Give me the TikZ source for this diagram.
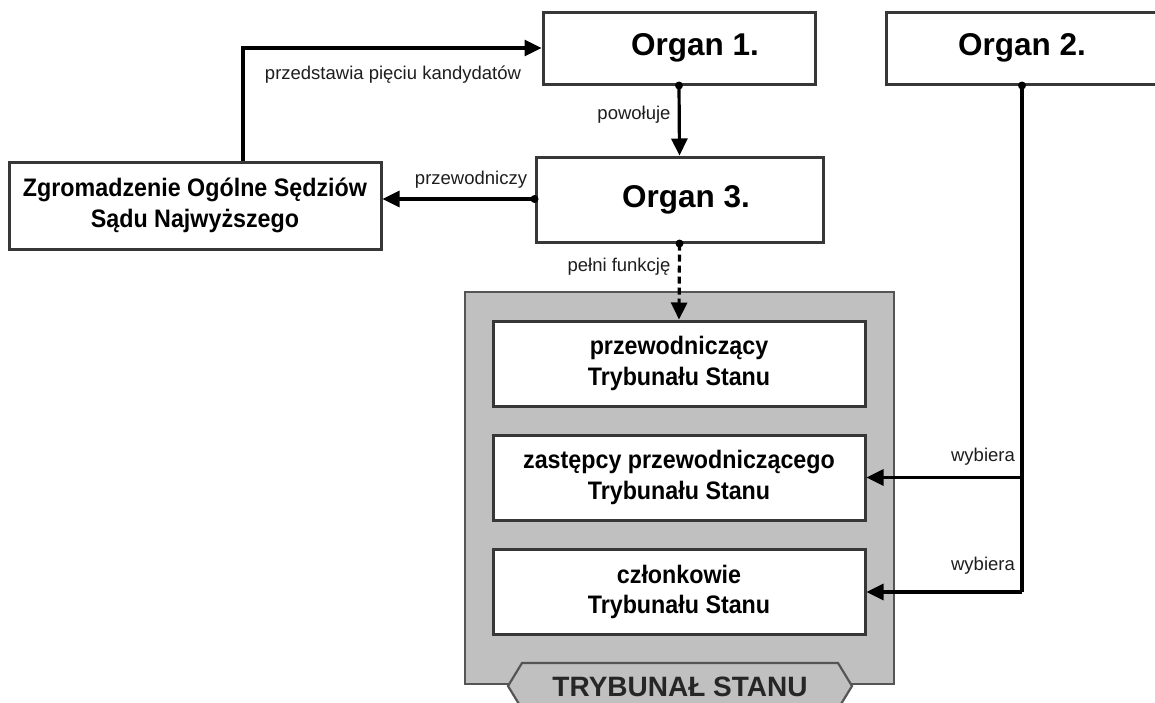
\documentclass[tikz,border=0pt]{standalone}
\usepackage{fontspec}
\setmainfont{Liberation Sans}
\newfontfamily\memfont[FakeStretch=0.92]{Liberation Sans}
\usetikzlibrary{arrows.meta}
\definecolor{boxline}{RGB}{55,55,55}
\definecolor{tsgray}{RGB}{192,192,192}
\definecolor{tsline}{RGB}{85,85,85}
\definecolor{lbl}{RGB}{30,30,30}
\tikzset{
  box/.style={draw=boxline, line width=3pt, fill=white, inner sep=0pt, align=center},
  organ/.style={box, minimum width=272pt, minimum height=72pt, font=\bfseries\fontsize{31.5}{34}\selectfont},
  member/.style={box, minimum width=372pt, minimum height=85pt, font=\memfont\bfseries\fontsize{25.3}{30.5}\selectfont},
  conn/.style={line width=3.2pt, black, -{Triangle[length=17pt,width=16pt]}},
  plain/.style={line width=3.2pt, black},
  lab/.style={font=\fontsize{18.5}{20}\selectfont, text=lbl, inner sep=0pt},
  dotmark/.style={fill=black},
  dashline/.style={dash pattern=on 7pt off 4pt}
}
\begin{document}
\begin{tikzpicture}[x=1pt,y=-1pt]
\useasboundingbox (0,0) rectangle (1155,702);
\fill[white] (0,0) rectangle (1155,702);

% container
\draw[fill=tsgray, draw=tsline, line width=2.2pt] (465,292) rectangle (894,684);
\draw[fill=tsgray, draw=tsline, line width=2.2pt] (508,686) -- (522,663) -- (838,663) -- (852,686) -- (838,709) -- (522,709) -- cycle;
\node[font=\bfseries\fontsize{28}{30}\selectfont, text=black!85, inner sep=0pt] (tslabel) at (680,687) {TRYBUNAŁ STANU};

% boxes
\node[organ] (o1) at (679,48) {\hspace*{32pt}Organ 1.};
\node[organ] (o2) at (1022,48) {Organ 2.};
\node[organ, minimum width=287pt, minimum height=85pt] (o3) at (679.5,199.5) {\hspace*{13pt}Organ 3.};
\node[member, minimum width=372pt, minimum height=87pt] (zg) at (195,205.5) {Zgromadzenie Ogólne Sędziów\\Sądu Najwyższego};
\node[member] (c1) at (679,363.5) {przewodniczący\\Trybunału Stanu};
\node[member] (c2) at (679,477.5) {zastępcy przewodniczącego\\Trybunału Stanu};
\node[member] (c3) at (679,592) {członkowie\\Trybunału Stanu};

% connectors
\coordinate (zgt) at ([xshift=48pt]zg.north);
\draw[conn] (zgt) |- (o1.west);
\draw[conn] (o1.south) -- (o3.north);
\fill[dotmark] (o1.south) circle (4pt);
\draw[conn] (o3.west |- 0,199) -- (zg.east |- 0,199);
\fill[dotmark] (o3.west |- 0,199) circle (4pt);
\draw[conn, dashline] (o3.south) -- (c1.north);
\fill[dotmark] (o3.south) circle (4pt);
\draw[plain] (o2.south) -- (o2.south |- c3.east);
\draw[conn] (o2.south |- c2.east) -- (c2.east);
\draw[conn] (o2.south |- c3.east) -- (c3.east);
\fill[dotmark] (o2.south) circle (4pt);

% labels
\node[lab] (l1) at (393,75) {przedstawia pięciu kandydatów};
\node[lab] (l2) at (471,180) {przewodniczy};
\node[lab] (l3) at (634,115) {powołuje};
\node[lab] (l4) at (619,267) {pełni funkcję};
\node[lab] (l5) at (983,457) {wybiera};
\node[lab] (l6) at (983,566) {wybiera};
\end{tikzpicture}
\end{document}
